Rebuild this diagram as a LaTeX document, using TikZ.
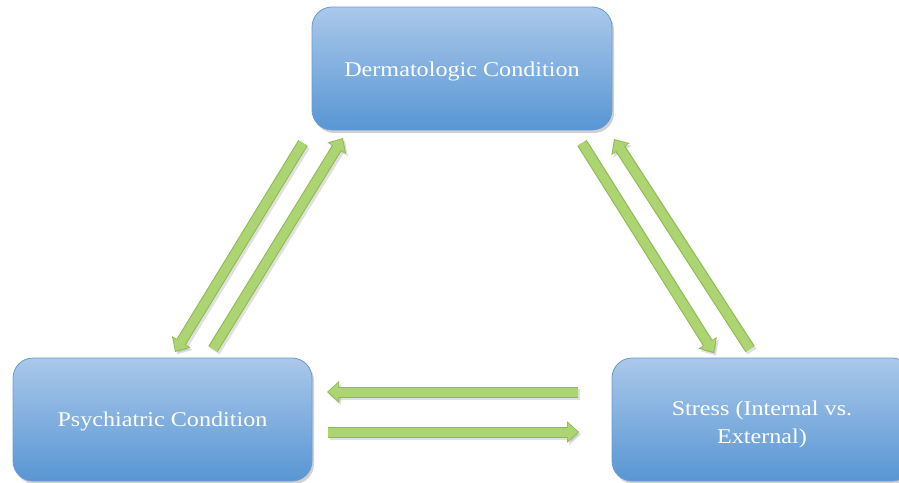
\documentclass[tikz,border=0pt]{standalone}
\usepackage{fontspec}
\setmainfont{Liberation Serif}[FakeStretch=1.15]
\usetikzlibrary{arrows.meta,shadows}
\definecolor{boxtop}{RGB}{170,200,234}
\definecolor{boxbot}{RGB}{88,150,212}
\definecolor{boxedge}{RGB}{105,155,210}
\definecolor{arrfill}{RGB}{172,212,112}
\definecolor{arredge}{RGB}{140,185,80}
\tikzset{
  box/.style={rounded corners=20pt, top color=boxtop, bottom color=boxbot, draw=boxedge, line width=0.8pt,
    drop shadow={shadow xshift=2pt, shadow yshift=-3pt, opacity=0.3, fill=black!60},
    text=white, font=\fontsize{21}{28}\selectfont, align=center, inner sep=0pt,
    minimum width=300pt, minimum height=123pt},
  arrshadow/.style={draw=black, opacity=0.12, line width=11pt, -{Triangle[width=21pt,length=12pt]}},
  arrout/.style={draw=arredge, line width=11pt, -{Triangle[width=21pt,length=12pt]}},
  arrin/.style={draw=arrfill, line width=9pt, shorten >=1.3pt, -{Triangle[width=17.5pt,length=10pt]}},
}
\newcommand{\greenarrow}[2]{%
  \draw[arrshadow] ([shift={(2pt,-2.5pt)}]#1) -- ([shift={(2pt,-2.5pt)}]#2);
  \draw[arrout] (#1) -- (#2);
  \draw[arrin] (#1) -- (#2);
}
\newcommand{\lowered}[2]{\raisebox{-#1}[\height][\depth]{#2}}
\begin{document}
\begin{tikzpicture}[x=1pt,y=-1pt]
\useasboundingbox (0,0) rectangle (899,482);
\begin{scope}
\clip (0,0) rectangle (899,482);
\node[box] (derm) at (462,68.5) {\lowered{3pt}{Dermatologic Condition}};
\node[box, minimum width=299pt] (psych) at (162.5,419.5) {\lowered{2pt}{Psychiatric Condition}};
\node[box] (stress) at (762,419.5) {\lowered{4pt}{\begin{tabular}{@{}c@{}}Stress (Internal vs.\\External)\end{tabular}}};
\end{scope}
% arrow end points
\coordinate (a1s) at (303,143); \coordinate (a1e) at (175,352);
\coordinate (a2s) at (213,349); \coordinate (a2e) at (343,138);
\coordinate (a3s) at (582,143); \coordinate (a3e) at (714,353);
\coordinate (a4s) at (750,349); \coordinate (a4e) at (614,139);
\coordinate (a5s) at (578,392); \coordinate (a5e) at (327,392);
\coordinate (a6s) at (328,432); \coordinate (a6e) at (579,432);
\greenarrow{a1s}{a1e}
\greenarrow{a2s}{a2e}
\greenarrow{a3s}{a3e}
\greenarrow{a4s}{a4e}
\greenarrow{a5s}{a5e}
\greenarrow{a6s}{a6e}
\end{tikzpicture}
\end{document}
